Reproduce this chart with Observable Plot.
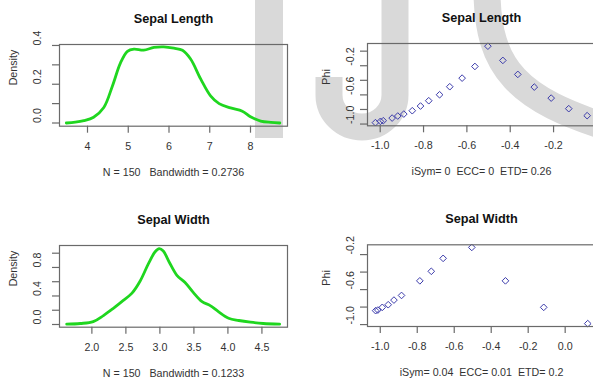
<!DOCTYPE html>
<html>
<head>
<meta charset="utf-8">
<script src="https://cdn.jsdelivr.net/npm/d3@7"></script>
<script src="https://cdn.jsdelivr.net/npm/@observablehq/plot@0.6"></script>
<style>
  html, body { margin: 0; padding: 0; background: #fff; }
  #wrap { position: relative; width: 593px; height: 381px; overflow: hidden; background: #fff; }
  #wrap > .panel { position: absolute; }
  #wm { position: absolute; left: 0; top: 0; }
</style>
</head>
<body>
<div id="wrap">
  <svg id="wm" width="593" height="381">
    <g fill="none" stroke="#d9d9d9" stroke-width="27">
      <rect x="255" y="0" width="28" height="138" fill="#d9d9d9" stroke="none"></rect>
      <path d="M 395 -10 V 95 A 33 32 0 0 1 329 95 V 77"></path>
      <path d="M 487 -10 C 487 70, 520 100, 610 128"></path>
    </g>
  </svg>
</div>
<script>
// ---- data ----
const sepalLengthX = [3.48, 3.70, 3.91, 4.15, 4.40, 4.61, 4.81, 4.98, 5.14, 5.38, 5.63, 5.87, 6.12, 6.33, 6.53, 6.78, 7.02, 7.23, 7.51, 7.80, 8.00, 8.25, 8.50, 8.72];
const sepalLengthDensity = [0.000, 0.004, 0.012, 0.030, 0.080, 0.190, 0.310, 0.370, 0.381, 0.376, 0.390, 0.393, 0.386, 0.375, 0.330, 0.226, 0.140, 0.100, 0.078, 0.061, 0.032, 0.010, 0.003, 0.000];
const sepalWidthX = [1.63, 1.83, 2.02, 2.17, 2.32, 2.44, 2.59, 2.71, 2.83, 2.93, 2.99, 3.05, 3.14, 3.25, 3.37, 3.49, 3.62, 3.74, 3.86, 4.01, 4.16, 4.33, 4.52, 4.76];
const sepalWidthDensity = [0.005, 0.014, 0.040, 0.125, 0.230, 0.320, 0.440, 0.610, 0.850, 1.020, 1.065, 1.030, 0.870, 0.690, 0.590, 0.450, 0.320, 0.265, 0.180, 0.088, 0.056, 0.032, 0.014, 0.005];

const lengthPhiX = [-1.022, -0.999, -0.986, -0.945, -0.919, -0.891, -0.852, -0.814, -0.776, -0.726, -0.679, -0.622, -0.563, -0.503, -0.434, -0.365, -0.289, -0.211, -0.130, -0.045];
const lengthPhiY = [-0.981, -0.963, -0.954, -0.918, -0.890, -0.863, -0.817, -0.753, -0.680, -0.598, -0.488, -0.370, -0.210, 0.068, -0.127, -0.319, -0.493, -0.644, -0.789, -0.885];
const widthPhiX = [-1.025, -1.013, -0.989, -0.957, -0.926, -0.885, -0.786, -0.724, -0.660, -0.505, -0.323, -0.116, 0.122];
const widthPhiY = [-0.841, -0.834, -0.803, -0.773, -0.720, -0.667, -0.500, -0.391, -0.243, -0.118, -0.500, -0.803, -0.989];

const titles = ["Sepal Length", "Sepal Width"];
const densitySubs = ["N = 150   Bandwidth = 0.2736", "N = 150   Bandwidth = 0.1233"];
const phiSubs = ["iSym= 0  ECC= 0  ETD= 0.26", "iSym= 0.04  ECC= 0.01  ETD= 0.2"];

const tlXTicks = [4, 5, 6, 7, 8];
const tlXLabels = ["4", "5", "6", "7", "8"];
const tlYTicks = [0, 0.1, 0.2, 0.3, 0.4];
const tlYLabels = ["0.0", "", "0.2", "", "0.4"];
const blXTicks = [2.0, 2.5, 3.0, 3.5, 4.0, 4.5];
const blXLabels = ["2.0", "2.5", "3.0", "3.5", "4.0", "4.5"];
const blYTicks = [0, 0.2, 0.4, 0.6, 0.8, 1.0];
const blYLabels = ["0.0", "", "0.4", "", "0.8", ""];
const trXTicks = [-1.0, -0.8, -0.6, -0.4, -0.2];
const trXLabels = ["-1.0", "-0.8", "-0.6", "-0.4", "-0.2"];
const trYTicks = [-1.0, -0.8, -0.6, -0.4, -0.2, 0.0];
const trYLabels = ["-1.0", "", "-0.6", "", "-0.2", ""];
const brXTicks = [-1.0, -0.8, -0.6, -0.4, -0.2, 0.0];
const brXLabels = ["-1.0", "-0.8", "-0.6", "-0.4", "-0.2", "0.0"];
const brYTicks = [-1.0, -0.8, -0.6, -0.4, -0.2];
const brYLabels = ["-1.0", "", "-0.6", "", "-0.2"];

// ---- drawing ----
const FONT = "'Liberation Sans', Arial, sans-serif";
const TXT = "#333";
const AX = "#6a6a6a";

function panel(cfg) {
  const {ox, oy, w, h, fx0, fx1, fy0, fy1, xDomain, yDomain, xTicks, xLabels, yTicks, yLabels,
         title, sub, ylab, ylabX, yTickX, marks} = cfg;
  const xt = xTicks.map((v, i) => ({v, t: xLabels[i]}));
  const yt = yTicks.map((v, i) => ({v, t: yLabels[i]})).filter(d => d.t !== "");
  const p = Plot.plot({
    width: w, height: h,
    marginLeft: fx0 - ox, marginRight: ox + w - fx1, marginTop: fy0 - oy, marginBottom: oy + h - fy1,
    x: {domain: xDomain}, y: {domain: yDomain},
    style: {background: "transparent", fontFamily: FONT, overflow: "visible", color: TXT},
    marks: [
      ...marks,
      Plot.frame({stroke: AX, strokeWidth: 1.2}),
      Plot.axisX({ticks: xTicks, tickSize: 7, tickFormat: () => "", stroke: AX, strokeWidth: 1.2, label: null}),
      Plot.axisY({ticks: yTicks, tickSize: 7, tickFormat: () => "", stroke: AX, strokeWidth: 1.2, label: null}),
      Plot.text(xt, {x: "v", text: "t", frameAnchor: "bottom", dy: 20, lineAnchor: "middle", fontSize: 10.7, fill: TXT}),
      Plot.text(yt, {y: "v", text: "t", frameAnchor: "left", dx: -yTickX, rotate: -90, lineAnchor: "middle", fontSize: 10.7, fill: TXT}),
      Plot.text([title], {frameAnchor: "top", dy: -25.7, lineAnchor: "middle", fontSize: 12.7, fontWeight: "bold", fill: "#111"}),
      Plot.text([sub], {frameAnchor: "bottom", dy: 46, lineAnchor: "middle", fontSize: 10.7, fill: TXT}),
      Plot.text([ylab], {frameAnchor: "left", dx: -ylabX, rotate: -90, lineAnchor: "middle", fontSize: 10.7, fill: TXT})
    ]
  });
  p.classList.add("panel");
  p.style.left = ox + "px";
  p.style.top = oy + "px";
  p.style.maxWidth = "none";
  document.getElementById("wrap").appendChild(p);
}

const GREEN = "#1fd61f";
const BLUE = "#3b3bab";

panel({
  ox: 0, oy: 0, w: 300, h: 190, fx0: 59, fx1: 287, fy0: 44, fy1: 125.7,
  xDomain: [3.313, 8.908], yDomain: [-0.0165, 0.405],
  xTicks: tlXTicks, xLabels: tlXLabels, yTicks: tlYTicks, yLabels: tlYLabels,
  title: titles[0], sub: densitySubs[0], ylab: "Density", ylabX: 45.7, yTickX: 21.5,
  marks: [Plot.line(sepalLengthX.map((x, i) => ({x, y: sepalLengthDensity[i]})), {x: "x", y: "y", stroke: GREEN, strokeWidth: 2.8, curve: "catmull-rom"})]
});
panel({
  ox: 0, oy: 190, w: 300, h: 191, fx0: 59, fx1: 287, fy0: 245, fy1: 326.7,
  xDomain: [1.524, 4.876], yDomain: [-0.038, 1.108],
  xTicks: blXTicks, xLabels: blXLabels, yTicks: blYTicks, yLabels: blYLabels,
  title: titles[1], sub: densitySubs[1], ylab: "Density", ylabX: 45.7, yTickX: 21.5,
  marks: [Plot.line(sepalWidthX.map((x, i) => ({x, y: sepalWidthDensity[i]})), {x: "x", y: "y", stroke: GREEN, strokeWidth: 2.8, curve: "catmull-rom"})]
});
panel({
  ox: 300, oy: 0, w: 300, h: 190, fx0: 367, fx1: 595, fy0: 43, fy1: 125.3,
  xDomain: [-1.0586, -0.0065], yDomain: [-1.024, 0.105],
  xTicks: trXTicks, xLabels: trXLabels, yTicks: trYTicks, yLabels: trYLabels,
  title: titles[0], sub: phiSubs[0], ylab: "Phi", ylabX: 41, yTickX: 16.5,
  marks: [Plot.dot(lengthPhiX.map((x, i) => ({x, y: lengthPhiY[i]})), {x: "x", y: "y", symbol: "diamond2", r: 3, stroke: BLUE, strokeWidth: 1, fill: "none"})]
});
panel({
  ox: 300, oy: 190, w: 300, h: 191, fx0: 367, fx1: 595, fy0: 244.3, fy1: 326,
  xDomain: [-1.069, 0.164], yDomain: [-1.022, -0.088],
  xTicks: brXTicks, xLabels: brXLabels, yTicks: brYTicks, yLabels: brYLabels,
  title: titles[1], sub: phiSubs[1], ylab: "Phi", ylabX: 41, yTickX: 16.5,
  marks: [Plot.dot(widthPhiX.map((x, i) => ({x, y: widthPhiY[i]})), {x: "x", y: "y", symbol: "diamond2", r: 3, stroke: BLUE, strokeWidth: 1, fill: "none"})]
});
</script>
</body>
</html>
